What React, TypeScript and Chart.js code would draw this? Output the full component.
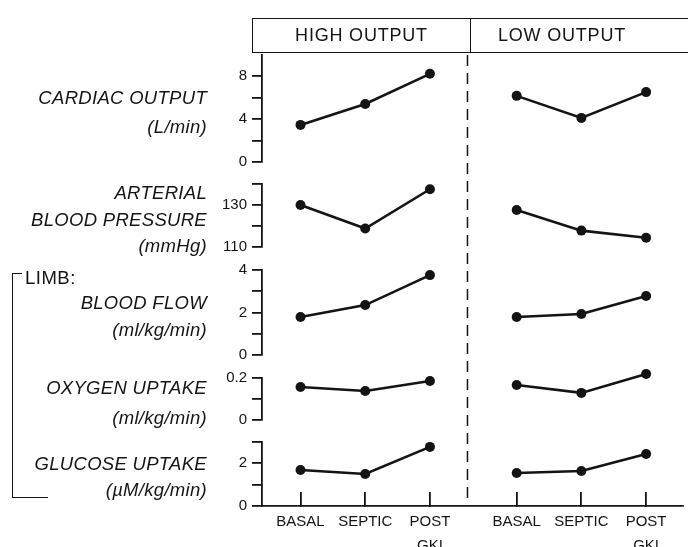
import React, { useEffect, useRef } from 'react';
import { Chart, registerables } from 'chart.js';

Chart.register(...registerables);

// ---------- data ----------
const CATEGORIES: (string | string[])[] = ['BASAL', 'SEPTIC', ['POST', 'GKI']];
const GROUPS = ['HIGH OUTPUT', 'LOW OUTPUT'];

const CARDIAC_HIGH = [3.45, 5.4, 8.2];
const CARDIAC_LOW = [6.15, 4.1, 6.5];
const ABP_HIGH = [130, 118.8, 137.5];
const ABP_LOW = [127.6, 117.8, 114.4];
const FLOW_HIGH = [1.79, 2.35, 3.76];
const FLOW_LOW = [1.79, 1.93, 2.78];
const O2_HIGH = [0.157, 0.138, 0.186];
const O2_LOW = [0.167, 0.129, 0.219];
const GLU_HIGH = [1.69, 1.5, 2.77];
const GLU_LOW = [1.55, 1.64, 2.44];

const CARDIAC_TICKS = [0, 2, 4, 6, 8];
const CARDIAC_LABELS = [0, 4, 8];
const ABP_TICKS = [110, 120, 130, 140];
const ABP_LABELS = [110, 130];
const FLOW_TICKS = [0, 1, 2, 3, 4];
const FLOW_LABELS = [0, 2, 4];
const O2_TICKS = [0, 0.1, 0.2];
const O2_LABELS = [0, 0.2];
const GLU_TICKS = [0, 1, 2, 3];
const GLU_LABELS = [0, 2];

const TITLES = [
  ['CARDIAC OUTPUT', '(L/min)'],
  ['ARTERIAL', 'BLOOD PRESSURE', '(mmHg)'],
  ['BLOOD FLOW', '(ml/kg/min)'],
  ['OXYGEN UPTAKE', '(ml/kg/min)'],
  ['GLUCOSE UPTAKE', '(\u00B5M/kg/min)'],
];

// ---------- layout ----------
const GROUP_OFFSET = 3.34;
const DIVIDER = 2.58;
const X_MIN = -0.595;
const X_MAX = 5.91;
const AXIS_LEFT = 262;
const INK = '#141414';
const FONT = '"Liberation Sans", Arial, Helvetica, sans-serif';

const PANELS = [
  { id: 'y1', high: CARDIAC_HIGH, low: CARDIAC_LOW, min: 0, max: 9.95, ticks: CARDIAC_TICKS, labels: CARDIAC_LABELS, h: 107, gapAfter: 22, titleY: [98, 127] },
  { id: 'y2', high: ABP_HIGH, low: ABP_LOW, min: 110, max: 140, ticks: ABP_TICKS, labels: ABP_LABELS, h: 63, gapAfter: 23, titleY: [193, 220, 246] },
  { id: 'y3', high: FLOW_HIGH, low: FLOW_LOW, min: 0, max: 4, ticks: FLOW_TICKS, labels: FLOW_LABELS, h: 85, gapAfter: 23, titleY: [303, 330] },
  { id: 'y4', high: O2_HIGH, low: O2_LOW, min: 0, max: 0.2, ticks: O2_TICKS, labels: O2_LABELS, h: 42, gapAfter: 22, titleY: [388, 418] },
  { id: 'y5', high: GLU_HIGH, low: GLU_LOW, min: 0, max: 3, ticks: GLU_TICKS, labels: GLU_LABELS, h: 64, gapAfter: 0, titleY: [464, 490] },
];

const HIGH_X = CATEGORIES.map((_, i) => i);
const LOW_X = CATEGORIES.map((_, i) => i + GROUP_OFFSET);
const ALL_X = [...HIGH_X, ...LOW_X];

function buildScales() {
  const scales: any = {
    x: {
      type: 'linear',
      min: X_MIN,
      max: X_MAX,
      afterBuildTicks: (s: any) => {
        s.ticks = ALL_X.map((v) => ({ value: v }));
      },
      afterFit: (s: any) => {
        s.height = 41;
      },
      ticks: {
        autoSkip: false,
        maxRotation: 0,
        padding: 18,
        color: INK,
        font: { family: FONT, size: 15, lineHeight: 1.6 },
        callback: (_v: any, i: number) => CATEGORIES[i % CATEGORIES.length],
      },
      grid: { drawOnChartArea: false, tickLength: -14, color: INK, lineWidth: 1.8 },
      border: { display: true, color: INK, width: 1.8 },
    },
  };
  let weight = 100;
  PANELS.forEach((p, idx) => {
    scales[p.id] = {
      type: 'linear',
      position: 'left',
      stack: 'v',
      stackWeight: p.h,
      weight: weight--,
      min: p.min,
      max: p.max,
      afterBuildTicks: (s: any) => {
        s.ticks = p.ticks.map((v) => ({ value: v }));
      },
      afterFit: (s: any) => {
        s.width = AXIS_LEFT;
      },
      ticks: {
        autoSkip: false,
        padding: 5,
        color: INK,
        font: { family: FONT, size: 15 },
        callback: (v: any) => (p.labels.includes(v) ? String(v) : ''),
      },
      grid: { drawOnChartArea: false, tickLength: 10, color: INK, lineWidth: 1.8 },
      border: { display: true, color: INK, width: 1.8 },
    };
    if (p.gapAfter > 0) {
      scales['gap' + idx] = {
        type: 'linear',
        position: 'left',
        stack: 'v',
        stackWeight: p.gapAfter,
        weight: weight--,
        display: false,
        min: 0,
        max: 1,
      };
    }
  });
  return scales;
}

function buildDatasets() {
  const ds: any[] = [];
  PANELS.forEach((p) => {
    [p.high, p.low].forEach((vals, g) => {
      const xs = g === 0 ? HIGH_X : LOW_X;
      ds.push({
        label: GROUPS[g] + ' ' + p.id,
        yAxisID: p.id,
        xAxisID: 'x',
        data: vals.map((y, i) => ({ x: xs[i], y })),
        borderColor: INK,
        backgroundColor: INK,
        pointBackgroundColor: INK,
        pointBorderColor: INK,
        borderWidth: 2.6,
        pointRadius: 5,
        pointBorderWidth: 0,
        showLine: true,
        tension: 0,
        clip: false,
      });
    });
  });
  return ds;
}

const dividerPlugin = {
  id: 'groupDivider',
  afterDraw(chart: any) {
    const { ctx, chartArea } = chart;
    const x = chart.scales.x.getPixelForValue(DIVIDER);
    ctx.save();
    ctx.strokeStyle = INK;
    ctx.lineWidth = 1.5;
    ctx.setLineDash([11, 7]);
    ctx.beginPath();
    ctx.moveTo(x, chartArea.top);
    ctx.lineTo(x, chartArea.bottom - 5);
    ctx.stroke();
    ctx.restore();
  },
};

export default function App() {
  const canvasRef = useRef<HTMLCanvasElement>(null);

  useEffect(() => {
    document.body.style.margin = '0';
    const chart = new Chart(canvasRef.current as HTMLCanvasElement, {
      type: 'scatter',
      data: { datasets: buildDatasets() },
      options: {
        animation: false,
        responsive: false,
        devicePixelRatio: 1,
        layout: { padding: { top: 55, left: 0, right: 0, bottom: 0 } },
        plugins: { legend: { display: false }, tooltip: { enabled: false }, title: { display: false } },
        scales: buildScales(),
      } as any,
      plugins: [dividerPlugin],
    });
    return () => chart.destroy();
  }, []);

  const titleStyle = (y: number): React.CSSProperties => ({
    position: 'absolute',
    left: 0,
    width: 207,
    top: y - 11,
    height: 22,
    lineHeight: '22px',
    textAlign: 'right',
    fontStyle: 'italic',
    fontSize: 18.5,
    letterSpacing: 0.3,
    whiteSpace: 'nowrap',
  });

  return (
    <div
      style={{
        position: 'relative',
        width: 688,
        height: 547,
        overflow: 'hidden',
        background: '#fff',
        fontFamily: FONT,
        color: INK,
      }}
    >
      <canvas ref={canvasRef} width={688} height={547} style={{ position: 'absolute', left: 0, top: 0 }} />

      {/* header */}
      <div
        style={{
          position: 'absolute',
          left: 252,
          top: 18,
          width: 460,
          height: 33,
          borderTop: `1.8px solid ${INK}`,
          borderBottom: `1.8px solid ${INK}`,
          borderLeft: `1.8px solid ${INK}`,
          display: 'flex',
          fontSize: 18,
          letterSpacing: 0.8,
        }}
      >
        <div
          style={{
            width: 217,
            borderRight: `1.8px solid ${INK}`,
            display: 'flex',
            alignItems: 'center',
            justifyContent: 'center',
          }}
        >
          {GROUPS[0]}
        </div>
        <div style={{ width: 182, display: 'flex', alignItems: 'center', justifyContent: 'center' }}>{GROUPS[1]}</div>
      </div>

      {/* panel titles */}
      {PANELS.map((p, pi) =>
        TITLES[pi].map((line, li) => (
          <div key={`${pi}-${li}`} style={titleStyle(p.titleY[li])}>
            {line}
          </div>
        ))
      )}

      {/* limb bracket */}
      <div style={{ position: 'absolute', left: 25, top: 267, fontSize: 18.5, lineHeight: '22px', letterSpacing: 0.5 }}>
        LIMB:
      </div>
      <div style={{ position: 'absolute', left: 12, top: 273, width: 10, height: 0, borderTop: `1.8px solid ${INK}` }} />
      <div
        style={{
          position: 'absolute',
          left: 12,
          top: 273,
          width: 35,
          height: 224,
          borderLeft: `1.8px solid ${INK}`,
          borderBottom: `1.8px solid ${INK}`,
        }}
      />
    </div>
  );
}
